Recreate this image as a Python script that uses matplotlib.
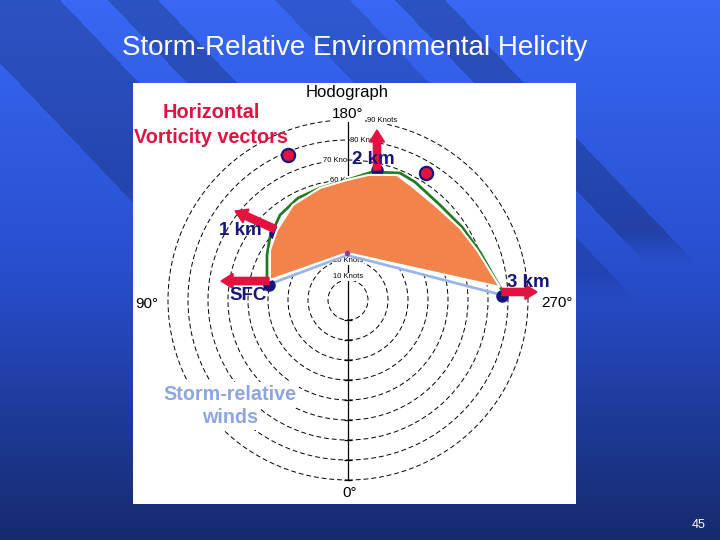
import matplotlib
matplotlib.use("Agg")
import matplotlib.pyplot as plt
import numpy as np
from matplotlib.patches import Circle

plt.rcParams['font.family'] = ['Liberation Sans', 'DejaVu Sans']

# hodograph data (knots, screen orientation: 180 deg up, 270 deg right)
ring_knots = [10, 20, 30, 40, 50, 60, 70, 80, 90]
ring_labels = ["10 Knots", "20 Knots", "60 Kn", "70 Kno", "80 Knots", "90 Knots"]
ring_label_r = [11.5, 19.5, 60, 70, 80, 90]
ring_label_x = [0, 0, -9, -0.5, 1, 9.5]
ring_label_ha = ['center', 'center', 'left', 'right', 'left', 'left']

hodo_u = [-40.5, -40.5, -39, -34, -25, -14, -0.5, 12, 26, 33.5, 46, 57, 66, 72.5, 77.5]
hodo_v = [8.5, 22.5, 31.5, 42.5, 51, 56, 60, 64, 63.5, 59, 47.5, 36.5, 24, 12.5, 4]

area_u = [-39, -39, -35.5, -27.5, -14, -0.5, 10, 24.5, 32.5, 44.5, 56, 64.5, 76, -0.5]
area_v = [10, 25, 35, 47.5, 56, 60, 62.5, 62.5, 56.5, 46.5, 36, 25, 6.5, 23.5]

storm_u = [-39, -0.5, 77]
storm_v = [8, 22.5, 2.5]

levels = ["SFC", "1 km", "2 km", "3 km"]
level_u = [-39.5, -36.5, 14.5, 77]
level_v = [7.5, 33.5, 65, 2]
vort_du = [-24, -20, 0, 17.5]
vort_dv = [0, 9, 20, 0]
label_u = [-50, -54, 12.5, 90]
label_v = [0, 32.5, 68, 6.5]

extra_u = [-30, 39]
extra_v = [72.5, 63.5]

red = "#e4123e"
navy = "#16167c"

# background (slide)
H, W = 540, 720
yy, xx = np.mgrid[0:H, 0:W].astype(float)
t = yy / H
top = np.array([56, 104, 244]) / 255
mid = np.array([40, 78, 205]) / 255
bot = np.array([22, 42, 108]) / 255
a = np.clip(t / 0.5, 0, 1)[..., None]
b = np.clip((t - 0.5) / 0.5, 0, 1)[..., None]
img = np.where(t[..., None] < 0.5, top * (1 - a) + mid * a, mid * (1 - b) + bot * b)
s = xx - yy / 1.05
shade = np.zeros_like(xx)
for lo, hi, yend, k in [(-60, 60, 220, 1), (108, 158, 260, 1), (275, 350, 300, 0.7), (395, 445, 262, 1)]:
    inside = (s >= lo) & (s <= hi)
    fade = np.clip((yend - yy) / 30, 0, 1) * k
    shade = np.maximum(shade, inside * fade)
img = img * (1 - 0.2 * shade[..., None])

fig = plt.figure(figsize=(7.2, 5.4), dpi=100)
bg = fig.add_axes([0, 0, 1, 1])
bg.imshow(img, extent=(0, W, H, 0), aspect='auto')
bg.set_xlim(0, W)
bg.set_ylim(H, 0)
bg.axis('off')
bg.text(355, 55, "Storm-Relative Environmental Helicity", color='white',
        fontsize=20, ha='center', va='baseline')
bg.text(699, 528, "45", color='white', fontsize=9, ha='center', va='baseline')

ax = fig.add_axes([133 / 720, 36 / 540, 443 / 720, 421 / 540])
ax.set_facecolor('white')
ax.set_xlim(-107.5, 114)
ax.set_ylim(-102, 108.5)
ax.set_xticks([])
ax.set_yticks([])
for sp in ax.spines.values():
    sp.set_visible(False)

for r in ring_knots:
    ax.add_patch(Circle((0, 0), r, fill=False, ec='black', lw=0.7,
                        ls=(0, (5, 3)), zorder=1))
ax.plot([0, 0], [-90, 89], color='black', lw=0.9, zorder=1)
ax.plot([0] * len(ring_knots), [-r for r in ring_knots], ls='none', marker='_',
        ms=6, mew=0.9, color='black', zorder=1)
for lab, r, x, ha in zip(ring_labels, ring_label_r, ring_label_x, ring_label_ha):
    ax.text(x, r, lab, fontsize=5.5, ha=ha, va='center',
            zorder=1.5, bbox=dict(fc='white', ec='none', pad=0.3))

ax.plot(storm_u, storm_v, color='#9ab6e6', lw=2, zorder=2)
ax.plot(hodo_u, hodo_v, color='#237a23', lw=2, zorder=2)
ax.plot(level_u, level_v, 'o', color=navy, ms=8, zorder=2.5, ls='none')
ax.fill(area_u, area_v, fc='#f2834a', ec='white', lw=1.5, zorder=3)
ax.plot(area_u[-1], area_v[-1], 'o', color='#8a3fa0', ms=3, zorder=4)

for u, v, du, dv in zip(level_u, level_v, vort_du, vort_dv):
    ax.arrow(u, v + (2 if du else 0), du, dv, width=3.6, head_width=7.5,
             head_length=6, length_includes_head=True, fc=red, ec=red, zorder=5)
ax.plot(extra_u, extra_v, 'o', ls='none', mfc=red, mec=navy, mew=1.6, ms=9.5, zorder=5)

for lab, u, v in zip(levels, label_u, label_v):
    ax.text(u, v, lab, color=navy, fontsize=13.5, fontweight='bold',
            ha='center', va='baseline', zorder=6)

ax.text(-68.5, 91, "Horizontal", color=red, fontsize=14.3, fontweight='bold',
        ha='center', va='baseline', zorder=6)
ax.text(-68.5, 78.5, "Vorticity vectors", color=red, fontsize=14.3, fontweight='bold',
        ha='center', va='baseline', zorder=6)
ax.text(-59, -50, "Storm-relative", color='#8ca6e4', fontsize=14.2, fontweight='bold',
        ha='center', va='baseline', zorder=6,
        bbox=dict(fc='white', ec='none', pad=2))
ax.text(-59, -61.5, "winds", color='#8ca6e4', fontsize=14.2, fontweight='bold',
        ha='center', va='baseline', zorder=6,
        bbox=dict(fc='white', ec='none', pad=2))

ax.text(-0.5, 101.5, "Hodograph", fontsize=12, ha='center', va='baseline', zorder=6)
ax.text(0, 91, "180°", fontsize=11, ha='center', va='baseline', zorder=6,
        bbox=dict(fc='white', ec='none', pad=0.5))
ax.text(-100.5, -4, "90°", fontsize=11, ha='center', va='baseline', zorder=6)
ax.text(104.5, -3.5, "270°", fontsize=11, ha='center', va='baseline', zorder=6)
ax.text(1, -98.5, "0°", fontsize=11, ha='center', va='baseline', zorder=6,
        bbox=dict(fc='white', ec='none', pad=0.5))

fig.savefig("out.png", dpi=100)
